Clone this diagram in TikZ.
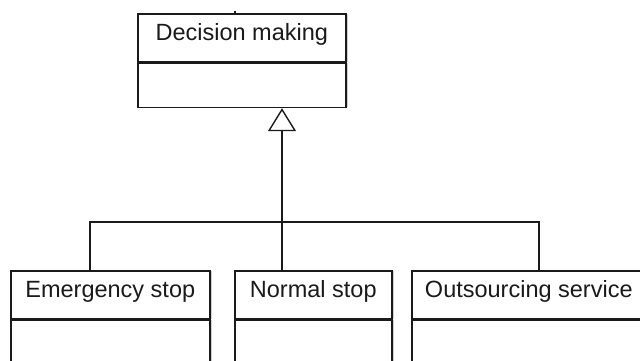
\documentclass[tikz,border=0pt]{standalone}
\usepackage{fontspec}
\setmainfont{Liberation Sans}
\usetikzlibrary{arrows.meta,shadows}
\definecolor{ink}{HTML}{1A1A1A}
\begin{document}
\begin{tikzpicture}[x=1pt,y=-1pt,
  line width=1.6pt,
  edge/.style={draw=ink, line width=1.6pt},
  hdr/.style={draw=ink, fill=white, rectangle, inner sep=0pt, anchor=north west,
    text height=27pt, text depth=21pt, text=ink,
    font=\fontsize{23.5}{28}\selectfont,
    drop shadow={shadow xshift=2pt, shadow yshift=0pt, fill=black, opacity=0.18}},
  body/.style={draw=ink, fill=white, rectangle, inner sep=0pt, anchor=north,
    drop shadow={shadow xshift=2pt, shadow yshift=0pt, fill=black, opacity=0.18}},
  gen/.style={edge, -{Triangle[open, width=28pt, length=23pt, line width=1.4pt]}}
]
\useasboundingbox (0,0) rectangle (640,360);
\clip (0,0) rectangle (640,360);

% parent class
\node[hdr, minimum width=208pt] (dm) at (137,13) {Decision making};
\node[body, minimum width=208pt, minimum height=44pt] (dmb) at (dm.south) {};
\draw[ink, line width=1.2pt] (235,12.5) -- (235,10.5);

% child classes
\node[hdr, minimum width=199pt] (es) at (10,270) {Emergency stop};
\node[body, minimum width=199pt, minimum height=70pt] (esb) at (es.south) {};
\node[hdr, minimum width=157pt] (ns) at (234,270) {Normal stop};
\node[body, minimum width=157pt, minimum height=70pt] (nsb) at (ns.south) {};
\node[hdr, minimum width=234pt] (os) at (411,270) {Outsourcing service};
\node[body, minimum width=234pt, minimum height=70pt] (osb) at (os.south) {};

% generalization tree
\coordinate (hub) at (282,222);
\coordinate (lft) at (90,222);
\coordinate (rgt) at (539,222);
\draw[edge] (es.north -| lft) -- (lft) -- (rgt) -- (os.north -| rgt);
\draw[gen] (ns.north -| hub) -- (dmb.south -| hub);
\end{tikzpicture}
\end{document}
